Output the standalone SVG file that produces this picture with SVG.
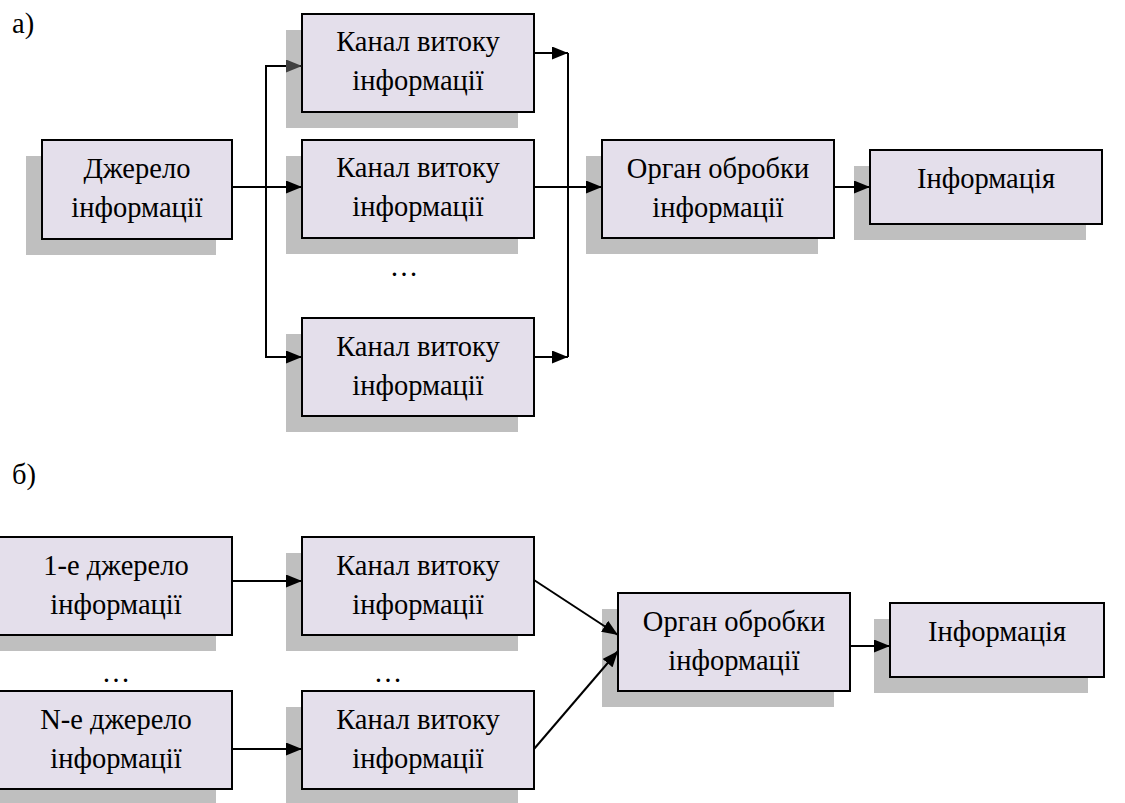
<svg xmlns="http://www.w3.org/2000/svg" width="1125" height="803" viewBox="0 0 1125 803">
<defs>
<style>
.sh{fill:#BFBFBF;stroke:none}
.bx{fill:#E4DFEB;stroke:#000;stroke-width:2}
.c{fill:none;stroke:#000;stroke-width:2}
</style>
<marker id="ah" markerUnits="userSpaceOnUse" markerWidth="16" markerHeight="13" refX="16" refY="6.5" orient="auto" viewBox="0 0 16 13">
<path d="M0,0 L16,6.5 L0,13 z" fill="#000"/>
</marker>
<marker id="ahg" markerUnits="userSpaceOnUse" markerWidth="16" markerHeight="13" refX="16" refY="6.5" orient="auto" viewBox="0 0 16 13">
<path d="M0,0 L16,6.5 L0,13 z" fill="#404040"/>
</marker>
</defs>
<rect width="1125" height="803" fill="#fff"/>

<g font-family="'Liberation Serif', 'Times New Roman', Times, serif" font-size="28.5" fill="#000">
<text x="12" y="33">а)</text>
<text x="12" y="484">б)</text>
</g>

<g font-family="'Liberation Serif', 'Times New Roman', Times, serif" font-size="28.5" fill="#000" text-anchor="middle">
<g id="src_a">
<rect class="sh" x="26" y="156" width="190" height="99"/>
<rect class="bx" x="42" y="140" width="190" height="99"/>
<text x="137" y="178">Джерело</text>
<text x="137" y="217">інформації</text>
</g>
<g id="ch_a1">
<rect class="sh" x="286" y="30" width="232" height="98"/>
<rect class="bx" x="302" y="14" width="232" height="98"/>
<text x="418" y="51">Канал витоку</text>
<text x="418" y="90">інформації</text>
</g>
<g id="ch_a2">
<rect class="sh" x="286" y="156" width="232" height="98"/>
<rect class="bx" x="302" y="140" width="232" height="98"/>
<text x="418" y="177">Канал витоку</text>
<text x="418" y="216">інформації</text>
</g>
<text x="404" y="276">…</text>
<g id="ch_a3">
<rect class="sh" x="286" y="334" width="232" height="98"/>
<rect class="bx" x="302" y="318" width="232" height="98"/>
<text x="418" y="356">Канал витоку</text>
<text x="418" y="395">інформації</text>
</g>
<g id="org_a">
<rect class="sh" x="586" y="156" width="232" height="98"/>
<rect class="bx" x="602" y="140" width="232" height="98"/>
<text x="718" y="178">Орган обробки</text>
<text x="718" y="217">інформації</text>
</g>
<g id="inf_a">
<rect class="sh" x="854" y="166" width="232" height="74"/>
<rect class="bx" x="870" y="150" width="232" height="74"/>
<text x="986" y="188">Інформація</text>
</g>

<g id="src_b1">
<rect class="sh" x="-18" y="553" width="234" height="98"/>
<rect class="bx" x="-2" y="537" width="234" height="98"/>
<text x="116" y="575">1-е джерело</text>
<text x="116" y="614">інформації</text>
</g>
<text x="116" y="682">…</text>
<g id="src_bN">
<rect class="sh" x="-18" y="707" width="234" height="98"/>
<rect class="bx" x="-2" y="691" width="234" height="98"/>
<text x="116" y="729">N-е джерело</text>
<text x="116" y="768">інформації</text>
</g>
<g id="ch_b1">
<rect class="sh" x="286" y="553" width="232" height="98"/>
<rect class="bx" x="302" y="537" width="232" height="98"/>
<text x="418" y="575">Канал витоку</text>
<text x="418" y="614">інформації</text>
</g>
<text x="388" y="682">…</text>
<g id="ch_bN">
<rect class="sh" x="286" y="707" width="232" height="98"/>
<rect class="bx" x="302" y="691" width="232" height="98"/>
<text x="418" y="729">Канал витоку</text>
<text x="418" y="768">інформації</text>
</g>
<g id="org_b">
<rect class="sh" x="602" y="609" width="232" height="98"/>
<rect class="bx" x="618" y="593" width="232" height="98"/>
<text x="734" y="631">Орган обробки</text>
<text x="734" y="670">інформації</text>
</g>
<g id="inf_b">
<rect class="sh" x="874" y="619" width="214" height="74"/>
<rect class="bx" x="890" y="603" width="214" height="74"/>
<text x="997" y="641">Інформація</text>
</g>
</g>

<g id="connectors">
<path class="c" d="M232,187 H302" marker-end="url(#ah)"/>
<path class="c" d="M266,187 V66 H302" marker-end="url(#ahg)"/>
<path class="c" d="M266,187 V357 H302" marker-end="url(#ah)"/>
<path class="c" d="M534,53 H568" marker-end="url(#ah)"/>
<path class="c" d="M568,53 V357"/>
<path class="c" d="M534,357 H568" marker-end="url(#ah)"/>
<path class="c" d="M534,187 H602" marker-end="url(#ah)"/>
<path class="c" d="M834,187 H870" marker-end="url(#ah)"/>
<path class="c" d="M232,581 H302" marker-end="url(#ah)"/>
<path class="c" d="M232,749 H302" marker-end="url(#ah)"/>
<path class="c" d="M534,580 L618,635" marker-end="url(#ah)"/>
<path class="c" d="M534,749 L618,651" marker-end="url(#ah)"/>
<path class="c" d="M850,646 H890" marker-end="url(#ah)"/>
</g>
</svg>
